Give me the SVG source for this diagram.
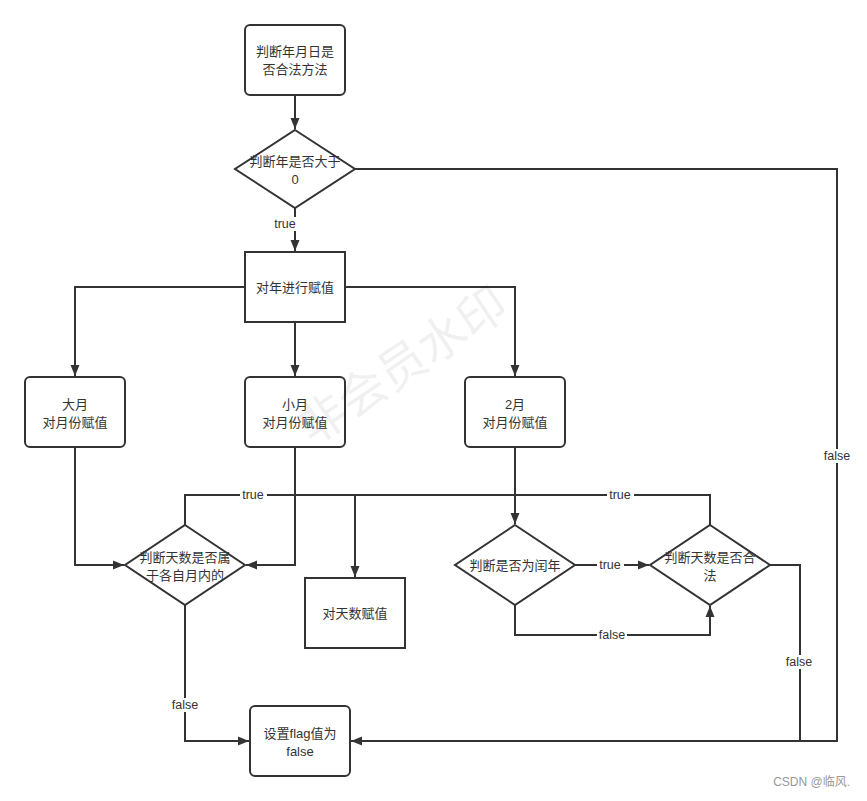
<svg xmlns="http://www.w3.org/2000/svg" width="867" height="801" viewBox="0 0 867 801">
<style>
.n{fill:#fff;stroke:#333;stroke-width:2}
.c{fill:none;stroke:#333;stroke-width:2}
.t{font-family:"Liberation Sans","Noto Sans CJK SC",sans-serif;font-size:13px;fill:#333;text-anchor:middle;dominant-baseline:central}
.l{font-family:"Liberation Sans","Noto Sans CJK SC",sans-serif;font-size:12.5px;fill:#333;text-anchor:middle;dominant-baseline:central}
.lb{fill:#fff}
</style>
<defs>
<marker id="a" markerUnits="userSpaceOnUse" markerWidth="12" markerHeight="10" refX="11" refY="5" orient="auto">
<path d="M0,0.5 L11,5 L0,9.5 z" fill="#333"/>
</marker>
</defs>
<rect width="867" height="801" fill="#fff"/>
<g id="connectors">
<path class="c" d="M295,95 V129" marker-end="url(#a)"/>
<path class="c" d="M295,208 V251" marker-end="url(#a)"/>
<path class="c" d="M245,287 H75 V376" marker-end="url(#a)"/>
<path class="c" d="M295,322 V376" marker-end="url(#a)"/>
<path class="c" d="M345,287 H515 V376" marker-end="url(#a)"/>
<path class="c" d="M75,447 V565 H124" marker-end="url(#a)"/>
<path class="c" d="M295,447 V565 H246" marker-end="url(#a)"/>
<path class="c" d="M185,525 V495 H355 V577" marker-end="url(#a)"/>
<path class="c" d="M710,525 V495 H355"/>
<path class="c" d="M515,447 V524" marker-end="url(#a)"/>
<path class="c" d="M575,565 H649" marker-end="url(#a)"/>
<path class="c" d="M515,605 V635 H710 V606" marker-end="url(#a)"/>
<path class="c" d="M355,169 H837 V741 H800"/>
<path class="c" d="M770,565 H800 V741 H351" marker-end="url(#a)"/>
<path class="c" d="M185,605 V741 H249" marker-end="url(#a)"/>
<rect class="lb" x="272" y="217" width="26" height="14"/>
<text class="l" x="285" y="224">true</text>
<rect class="lb" x="240" y="488" width="27" height="14"/>
<text class="l" x="253" y="495">true</text>
<rect class="lb" x="607" y="488" width="27" height="14"/>
<text class="l" x="620" y="495">true</text>
<rect class="lb" x="597" y="558" width="27" height="14"/>
<text class="l" x="610" y="565">true</text>
<rect class="lb" x="597" y="628" width="30" height="14"/>
<text class="l" x="612" y="635">false</text>
<rect class="lb" x="822" y="449" width="30" height="14"/>
<text class="l" x="837" y="456">false</text>
<rect class="lb" x="784" y="655" width="30" height="14"/>
<text class="l" x="799" y="662">false</text>
<rect class="lb" x="170" y="698" width="30" height="14"/>
<text class="l" x="185" y="705">false</text>
</g>
<g id="start">
<rect class="n" x="245" y="25" width="100" height="70" rx="5"/>
<text class="t" x="295" y="51.5">判断年月日是</text>
<text class="t" x="295" y="69.5">否合法方法</text>
</g>
<g id="yearCheck">
<path class="n" d="M295,130 L355,169 L295,208 L235,169 Z"/>
<text class="t" x="295" y="161">判断年是否大于</text>
<text class="t" x="295" y="179">0</text>
</g>
<g id="yearAssign">
<rect class="n" x="245" y="252" width="100" height="70"/>
<text class="t" x="295" y="287">对年进行赋值</text>
</g>
<g id="bigMonth">
<rect class="n" x="25" y="377" width="100" height="70" rx="5"/>
<text class="t" x="75" y="404">大月</text>
<text class="t" x="75" y="422">对月份赋值</text>
</g>
<g id="smallMonth">
<rect class="n" x="245" y="377" width="100" height="70" rx="5"/>
<text class="t" x="295" y="404">小月</text>
<text class="t" x="295" y="422">对月份赋值</text>
</g>
<g id="feb">
<rect class="n" x="465" y="377" width="100" height="70" rx="5"/>
<text class="t" x="515" y="404">2月</text>
<text class="t" x="515" y="422">对月份赋值</text>
</g>
<g id="dayInMonth">
<path class="n" d="M185,525 L245,565 L185,605 L125,565 Z"/>
<text class="t" x="185" y="557">判断天数是否属</text>
<text class="t" x="185" y="575">于各自月内的</text>
</g>
<g id="dayAssign">
<rect class="n" x="305" y="578" width="100" height="70"/>
<text class="t" x="355" y="613">对天数赋值</text>
</g>
<g id="leapCheck">
<path class="n" d="M515,525 L575,565 L515,605 L455,565 Z"/>
<text class="t" x="515" y="565">判断是否为闰年</text>
</g>
<g id="dayValid">
<path class="n" d="M710,525 L770,565 L710,605 L650,565 Z"/>
<text class="t" x="710" y="557">判断天数是否合</text>
<text class="t" x="710" y="575">法</text>
</g>
<g id="setFlag">
<rect class="n" x="250" y="706" width="100" height="70" rx="5"/>
<text class="t" x="300" y="733">设置flag值为</text>
<text class="t" x="300" y="751">false</text>
</g>
<text x="400" y="362" transform="rotate(-34 400 362)" font-family="'Noto Sans CJK SC',sans-serif" font-size="48" fill="#000" fill-opacity="0.06" text-anchor="middle" dominant-baseline="central">非会员水印</text>
<text x="850" y="786" font-family="'Liberation Sans','Noto Sans CJK SC',sans-serif" font-size="12" fill="#999" text-anchor="end">CSDN @临风.</text>
</svg>
